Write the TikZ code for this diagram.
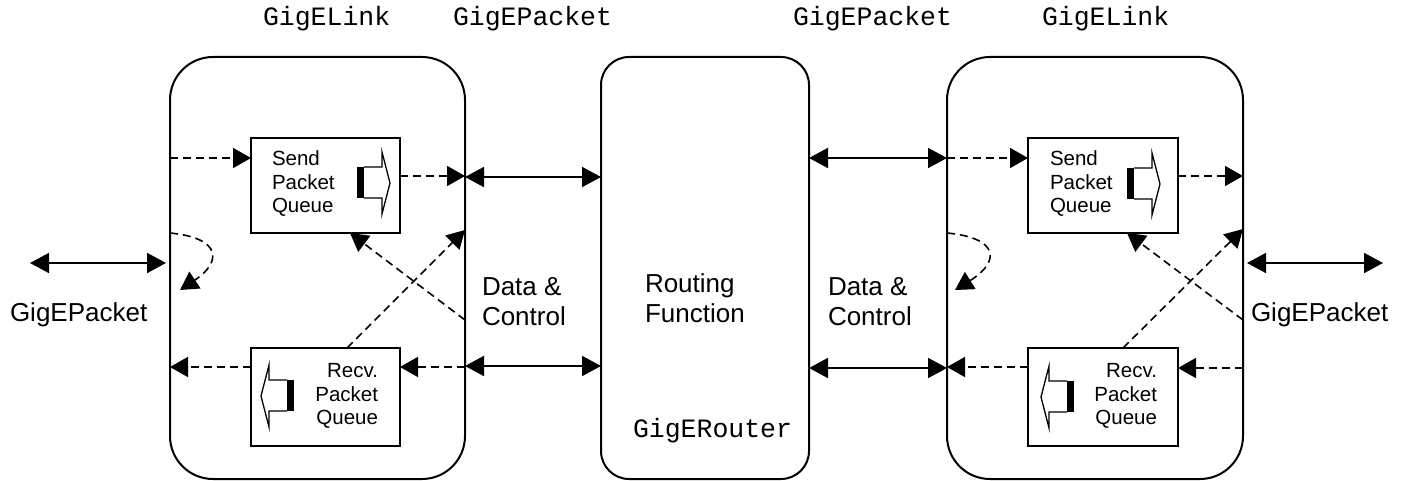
\documentclass[tikz,border=0pt]{standalone}
\usepackage{fontspec}
\setmainfont{Liberation Sans}
\newfontfamily\codefont{Liberation Mono}
\usetikzlibrary{arrows.meta}

\tikzset{
  queueicon/.pic={
    \fill (0,0) rectangle (7,31);
    \draw[line width=1.3pt, line join=miter] (7,0) -- (25,0) -- (25,-15) -- (33,16) -- (25,47) -- (25,31) -- (7,31);
  }
}

\begin{document}
\begin{tikzpicture}[x=1pt, y=-1pt,
  every node/.style={outer sep=0pt, inner sep=0pt},
  module/.style={draw, line width=2pt, rounded corners=43pt, minimum height=422pt},
  router/.style={draw, line width=2pt, rounded corners=28pt, minimum height=422pt, minimum width=208pt},
  queue/.style={draw, line width=1.8pt, minimum width=149pt},
  link/.style={line width=1.8pt, {Triangle[length=19pt, width=20pt]}-{Triangle[length=19pt, width=20pt]}},
  flow/.style={line width=1.6pt, dash pattern=on 8pt off 5pt, -{Triangle[length=18pt, width=20pt]}},
  code/.style={font=\codefont\fontsize{26.5}{30}\selectfont},
  big/.style={font=\fontsize{26}{30}\selectfont},
  small/.style={font=\fontsize{20.5}{23.5}\selectfont}
]
\useasboundingbox (0,0) rectangle (1407,481);

% link, router and queue blocks
\node[module, minimum width=295pt] (linkL) at (317.5,268) {};
\node[router] (router) at (705,268) {};
\node[module, minimum width=296pt] (linkR) at (1095,268) {};

\node[queue, minimum height=95pt] (sendL) at (325.5,185.5) {};
\node[queue, minimum height=98pt] (recvL) at (325.5,397) {};
\node[queue, minimum height=95pt, minimum width=150pt] (sendR) at (1103,185.5) {};
\node[queue, minimum height=98pt, minimum width=150pt] (recvR) at (1103,397) {};

% queue direction symbols
\pic at (357,167) {queueicon};
\pic at (1127,168) {queueicon};
\pic[xscale=-1] at (294,380) {queueicon};
\pic[xscale=-1] at (1074,381) {queueicon};

% labels
\node[code, anchor=base west] (nameLinkL) at (263,26) {GigELink};
\node[code, anchor=base west] (namePktL) at (453,26) {GigEPacket};
\node[code, anchor=base west] (namePktR) at (793,26) {GigEPacket};
\node[code, anchor=base west] (nameLinkR) at (1042,26) {GigELink};
\node[code, anchor=base west] (nameRouter) at (633,437) {GigERouter};

\node[big, anchor=base west] (pktL) at (10,321) {GigEPacket};
\node[big, anchor=base west] (pktR) at (1251,321) {GigEPacket};
\node[big, align=left, anchor=west] (dcL) at (482,302) {Data \&\\Control};
\node[big, align=left, anchor=west] (dcR) at (828,302) {Data \&\\Control};
\node[big, align=left, anchor=west] (route) at (645,298) {Routing\\Function};

\node[small, align=left, anchor=west] (sendTxtL) at (272,184) {Send\\Packet\\Queue};
\node[small, align=left, anchor=west] (sendTxtR) at (1050,184) {Send\\Packet\\Queue};
\node[small, align=right, anchor=east] (recvTxtL) at (378,396) {Recv.\\Packet\\Queue};
\node[small, align=right, anchor=east] (recvTxtR) at (1157,396) {Recv.\\Packet\\Queue};

% free ends
\coordinate (extL) at (30,263);
\coordinate (extR) at (1383,263);
\coordinate (loopL) at (180,290);
\coordinate (loopR) at (955,290);

% external packet ports
\draw[link, shorten >=4pt] (extL) -- (linkL.west |- extL);
\draw[link, shorten <=4pt] (linkR.east |- extR) -- (extR);

% data and control between links and router
\draw[link] (linkL.east |- 0,177) -- (router.west |- 0,177);
\draw[link] (linkL.east |- 0,366) -- (router.west |- 0,366);
\draw[link] (router.east |- 0,158) -- (linkR.west |- 0,158);
\draw[link] (router.east |- 0,368) -- (linkR.west |- 0,368);

% left link internals
\draw[flow] (linkL.west |- 0,158) -- (sendL.west |- 0,158);
\draw[flow] (sendL.east |- 0,176) -- (linkL.east |- 0,176);
\draw[flow] (linkL.east |- 0,367) -- (recvL.east |- 0,367);
\draw[flow] (recvL.west |- 0,367) -- (linkL.west |- 0,367);
\draw[flow] (linkL.east |- 0,320) -- (350,0 |- sendL.south);
\draw[flow] (347,0 |- recvL.north) -- (linkL.east |- 0,230);
\draw[flow] (linkL.west |- 0,233) .. controls (222,238) and (222,262) .. (loopL);

% right link internals
\draw[flow] (linkR.west |- 0,158) -- (sendR.west |- 0,158);
\draw[flow] (sendR.east |- 0,176) -- (linkR.east |- 0,176);
\draw[flow] (linkR.east |- 0,368) -- (recvR.east |- 0,368);
\draw[flow] (recvR.west |- 0,367) -- (linkR.west |- 0,367);
\draw[flow] (linkR.east |- 0,320) -- (1127,0 |- sendR.south);
\draw[flow] (1123,0 |- recvR.north) -- (linkR.east |- 0,229);
\draw[flow] (linkR.west |- 0,233) .. controls (1000,238) and (1000,262) .. (loopR);
\end{tikzpicture}
\end{document}
